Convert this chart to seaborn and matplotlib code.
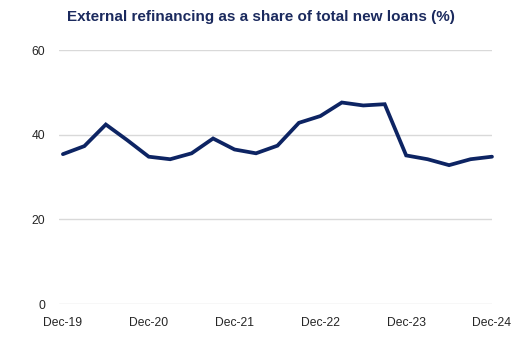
import matplotlib
matplotlib.use("Agg")
import matplotlib.pyplot as plt
import seaborn as sns
import pandas as pd

# Quarterly observations, Dec-19 through Dec-24
quarters = ["Dec-19", "Mar-20", "Jun-20", "Sep-20", "Dec-20", "Mar-21", "Jun-21",
            "Sep-21", "Dec-21", "Mar-22", "Jun-22", "Sep-22", "Dec-22", "Mar-23",
            "Jun-23", "Sep-23", "Dec-23", "Mar-24", "Jun-24", "Sep-24", "Dec-24"]
share = [35.4, 37.3, 42.4, 38.7, 34.8, 34.2, 35.6, 39.1, 36.5, 35.6, 37.4,
         42.8, 44.4, 47.6, 46.9, 47.2, 35.1, 34.2, 32.8, 34.2, 34.8]
tick_labels = ["Dec-19", "Dec-20", "Dec-21", "Dec-22", "Dec-23", "Dec-24"]
y_ticks = [0, 20, 40, 60]

df = pd.DataFrame({"pos": range(len(quarters)), "quarter": quarters, "share": share})

sns.set_theme(style="white")
plt.rcParams["font.family"] = ["Liberation Sans", "DejaVu Sans"]

fig = plt.figure(figsize=(5.31, 3.48), dpi=100)
ax = fig.add_axes([0.111, 0.1264, 0.8155, 0.7299])

navy = "#0d2463"
sns.lineplot(data=df, x="pos", y="share", ax=ax, color=navy, linewidth=2.7,
             solid_joinstyle="miter", clip_on=False, zorder=3)

ax.set_xlim(-0.185, 19.815)
ax.set_ylim(0, 60)
ax.set_yticks(y_ticks)
ax.set_xticks([quarters.index(t) for t in tick_labels])
ax.set_xticklabels(tick_labels)
ax.yaxis.grid(True, color="#d9d9d9", linewidth=1.0)
ax.xaxis.grid(False)
for s in ax.spines.values():
    s.set_visible(False)
ax.tick_params(axis="both", length=0, labelsize=8.7, labelcolor="#262626")
ax.tick_params(axis="y", pad=10)
ax.tick_params(axis="x", pad=9)
ax.set_xlabel("")
ax.set_ylabel("")

fig.text(0.4906, 0.951, "External refinancing as a share of total new loans (%)",
         ha="center", va="center", fontsize=11, fontweight="bold", color="#1b2a5e")

fig.savefig("out.png", dpi=100)
